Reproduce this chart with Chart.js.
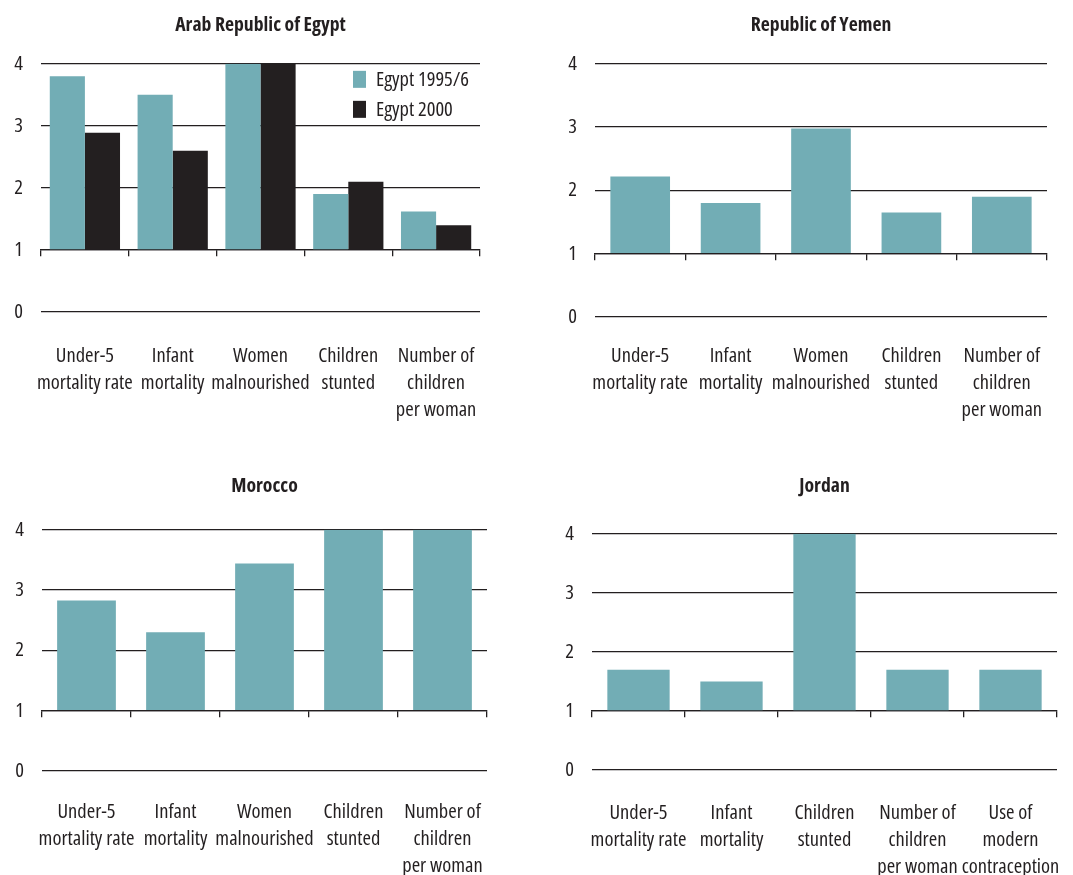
<!DOCTYPE html>
<html>
<head>
  <title>Child health indicators</title>
  <script src="https://cdn.jsdelivr.net/npm/chart.js"></script>
  <style>
    body { margin: 0; background: #fff; overflow: hidden; }
    .panel { position: absolute; }
  </style>
</head>
<body>
  <div class="panel" style="left:0;top:0;width:536px;height:437px"><canvas id="egyptChart"></canvas></div>
  <div class="panel" style="left:536px;top:0;width:537px;height:437px"><canvas id="yemenChart"></canvas></div>
  <div class="panel" style="left:0;top:437px;width:536px;height:450px"><canvas id="moroccoChart"></canvas></div>
  <div class="panel" style="left:536px;top:437px;width:537px;height:450px"><canvas id="jordanChart"></canvas></div>

  <script>
    const egyptLabels = [['Under-5', 'mortality rate'], ['Infant', 'mortality'], ['Women', 'malnourished'], ['Children', 'stunted'], ['Number of', 'children', 'per woman']];
    const egypt1995 = [3.8, 3.5, 4.0, 1.9, 1.62];
    const egypt2000 = [2.89, 2.6, 4.0, 2.1, 1.4];

    const yemenLabels = [['Under-5', 'mortality rate'], ['Infant', 'mortality'], ['Women', 'malnourished'], ['Children', 'stunted'], ['Number of', 'children', 'per woman']];
    const yemenValues = [2.22, 1.8, 2.98, 1.65, 1.9];

    const moroccoLabels = [['Under-5', 'mortality rate'], ['Infant', 'mortality'], ['Women', 'malnourished'], ['Children', 'stunted'], ['Number of', 'children', 'per woman']];
    const moroccoValues = [2.83, 2.3, 3.44, 4.0, 4.0];

    const jordanLabels = [['Under-5', 'mortality rate'], ['Infant', 'mortality'], ['Children', 'stunted'], ['Number of', 'children', 'per woman'], ['Use of', 'modern', 'contraception']];
    const jordanValues = [1.7, 1.5, 4.0, 1.7, 1.7];

    const TEAL = '#72adb5';
    const DARK = '#231f20';
    const FONT = "'Open Sans', sans-serif";

    Chart.defaults.font.family = FONT;
    Chart.defaults.font.weight = '500 condensed';   // goes into the canvas font shorthand -> narrow Open Sans
    Chart.defaults.color = DARK;

    // legend drawn inside the plot, top right (Egypt only)
    const insideLegend = {
      id: 'insideLegend',
      afterDatasetsDraw(chart, args, opts) {
        if (!opts.show) return;
        const { ctx, chartArea } = chart;
        ctx.save();
        ctx.font = '500 condensed 20.5px ' + FONT;
        ctx.textBaseline = 'middle';
        chart.data.datasets.forEach((ds, i) => {
          const x = chartArea.right - 127;
          const y = chartArea.top + 7 + i * 30;
          ctx.fillStyle = ds.backgroundColor;
          ctx.fillRect(x, y, 13, 17);
          ctx.fillStyle = DARK;
          ctx.fillText(ds.label, x + 23, y + 9);
        });
        ctx.restore();
      }
    };

    function makePanel(id, title, labels, datasets, g) {
      new Chart(document.getElementById(id), {
        type: 'bar',
        data: { labels: labels, datasets: datasets },
        plugins: [insideLegend],
        options: {
          responsive: true,
          maintainAspectRatio: false,
          animation: false,
          layout: { padding: { top: g.top, right: g.right, bottom: g.bottom, left: 0 } },
          datasets: {
            bar: { base: 1, categoryPercentage: g.cat, barPercentage: 1 }
          },
          scales: {
            x: {
              ticks: { maxRotation: 0, autoSkip: false, padding: g.pad, font: { size: 20.5, lineHeight: '27px' } },
              grid: { display: false, drawTicks: false },
              border: { display: false },
              afterFit(scale) {
                scale.height = g.pad + 81;
                scale.paddingLeft = 0;
                scale.paddingRight = 0;
              }
            },
            x2: {
              axis: 'x',
              type: 'category',
              position: { y: 1 },
              offset: true,
              ticks: { display: false },
              grid: { offset: true, drawOnChartArea: false, tickLength: 6, color: DARK, lineWidth: 1.3 },
              border: { display: true, color: DARK, width: 1.3 }
            },
            y: {
              min: 0,
              max: 4,
              ticks: { stepSize: 1, padding: 18, font: { size: 20.5 } },
              grid: { color: DARK, lineWidth: 1.3, drawTicks: false },
              border: { display: false },
              afterFit(scale) { scale.width = g.left; }
            }
          },
          plugins: {
            legend: { display: false },
            tooltip: { enabled: false },
            insideLegend: { show: datasets.length > 1 },
            title: {
              display: true,
              fullSize: false,
              text: title,
              color: DARK,
              font: { size: 19.7, weight: 'bold condensed', lineHeight: 1.2 },
              padding: { top: 0, bottom: g.titleGap }
            }
          }
        }
      });
    }

    makePanel('egyptChart', 'Arab Republic of Egypt', egyptLabels, [
      { label: 'Egypt 1995/6', data: egypt1995, backgroundColor: TEAL },
      { label: 'Egypt 2000', data: egypt2000, backgroundColor: DARK }
    ], { left: 41, right: 56, top: 13.6, titleGap: 26.6, bottom: 13.5, pad: 30.5, cat: 0.8 });

    makePanel('yemenChart', 'Republic of Yemen', yemenLabels, [
      { label: 'Republic of Yemen', data: yemenValues, backgroundColor: TEAL }
    ], { left: 59, right: 26, top: 13.6, titleGap: 26.6, bottom: 13.5, pad: 25.5, cat: 0.66 });

    makePanel('moroccoChart', 'Morocco', moroccoLabels, [
      { label: 'Morocco', data: moroccoValues, backgroundColor: TEAL }
    ], { left: 42, right: 49, top: 37.6, titleGap: 31.6, bottom: 7.5, pad: 27.5, cat: 0.66 });

    makePanel('jordanChart', 'Jordan', jordanLabels, [
      { label: 'Jordan', data: jordanValues, backgroundColor: TEAL }
    ], { left: 56, right: 16, top: 37.6, titleGap: 35.6, bottom: 6.5, pad: 29.5, cat: 0.67 });
  </script>
</body>
</html>
